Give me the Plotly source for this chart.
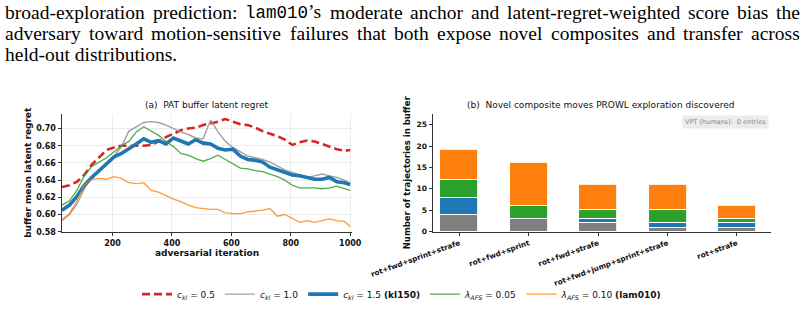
import plotly.graph_objects as go

W, H = 804, 309

# ---------------- data ----------------
iterations = [30, 55, 80, 105, 130, 155, 180, 205, 230, 255, 280, 305, 330, 355, 380, 405,
              430, 455, 480, 505, 530, 555, 580, 605, 630, 655, 680, 705, 730, 755, 780, 805,
              830, 855, 880, 905, 930, 955, 980, 1000]

ckl_05 = [0.632, 0.634, 0.638, 0.646, 0.658, 0.667, 0.675, 0.678, 0.680, 0.680, 0.680, 0.680,
          0.681, 0.685, 0.690, 0.694, 0.698, 0.700, 0.701, 0.704, 0.706, 0.708, 0.711, 0.708,
          0.705, 0.704, 0.701, 0.697, 0.694, 0.691, 0.687, 0.681, 0.684, 0.686, 0.685, 0.682,
          0.679, 0.676, 0.674, 0.675]
ckl_10 = [0.593, 0.600, 0.612, 0.630, 0.643, 0.651, 0.660, 0.668, 0.679, 0.697, 0.702, 0.707,
          0.708, 0.707, 0.704, 0.700, 0.696, 0.693, 0.689, 0.688, 0.710, 0.696, 0.685, 0.678,
          0.673, 0.668, 0.666, 0.664, 0.661, 0.656, 0.652, 0.649, 0.646, 0.643, 0.645, 0.647,
          0.645, 0.643, 0.640, 0.636]
ckl_15 = [0.605, 0.611, 0.621, 0.634, 0.643, 0.651, 0.659, 0.667, 0.671, 0.676, 0.682, 0.688,
          0.684, 0.686, 0.682, 0.689, 0.686, 0.682, 0.687, 0.683, 0.682, 0.677, 0.675, 0.676,
          0.668, 0.664, 0.663, 0.661, 0.655, 0.652, 0.648, 0.646, 0.645, 0.643, 0.641, 0.641,
          0.643, 0.638, 0.637, 0.635]
lam_005 = [0.611, 0.616, 0.628, 0.645, 0.656, 0.661, 0.666, 0.673, 0.680, 0.685, 0.696, 0.702,
           0.697, 0.692, 0.685, 0.679, 0.671, 0.669, 0.665, 0.662, 0.665, 0.669, 0.664, 0.659,
           0.654, 0.653, 0.651, 0.650, 0.647, 0.644, 0.640, 0.634, 0.631, 0.631, 0.631, 0.630,
           0.631, 0.633, 0.630, 0.628]
lam_010 = [0.594, 0.601, 0.616, 0.634, 0.641, 0.642, 0.641, 0.644, 0.642, 0.637, 0.636, 0.637,
           0.628, 0.626, 0.622, 0.618, 0.615, 0.611, 0.608, 0.607, 0.606, 0.606, 0.602, 0.601,
           0.601, 0.603, 0.604, 0.605, 0.607, 0.598, 0.600, 0.595, 0.591, 0.593, 0.591, 0.593,
           0.595, 0.593, 0.592, 0.586]

line_names = ["<i>c</i><sub><i>kl</i></sub> = 0.5",
              "<i>c</i><sub><i>kl</i></sub> = 1.0",
              "<i>c</i><sub><i>kl</i></sub> = 1.5 <b>(kl150)</b>",
              "<i>λ</i><sub><i>AFS</i></sub> = 0.05",
              "<i>λ</i><sub><i>AFS</i></sub> = 0.10 <b>(lam010)</b>"]

composites = ["rot+fwd+sprint+strafe", "rot+fwd+sprint", "rot+fwd+strafe",
              "rot+fwd+jump+sprint+strafe", "rot+strafe"]
count_ckl10 = [4, 3, 2, 1, 1]
count_ckl15 = [4, 0, 1, 1, 1]
count_lam005 = [4, 3, 2, 3, 1]
count_lam010 = [7, 10, 6, 6, 3]

y_ticks_a = [0.58, 0.60, 0.62, 0.64, 0.66, 0.68, 0.70]
x_ticks_a = [200, 400, 600, 800, 1000]
y_ticks_b = [0, 5, 10, 15, 20, 25]

para_lines = [
    ["broad-exploration", "prediction:", "@lam010@’s", "moderate", "anchor", "and",
     "latent-regret-weighted", "score", "bias", "the"],
    ["adversary", "toward", "motion-sensitive", "failures", "that", "both", "expose",
     "novel", "composites", "and", "transfer", "across"],
    ["held-out distributions."],
]

# ---------------- figure ----------------
fig = go.Figure()

styles = [
    dict(color="#d62728", width=2.6, dash="8px,4px"),
    dict(color="rgba(150,150,150,0.9)", width=1.4),
    dict(color="#1f77b4", width=3.6),
    dict(color="rgba(44,160,44,0.85)", width=1.3),
    dict(color="rgba(255,127,14,0.8)", width=1.3),
]
for ys, name, st in zip([ckl_05, ckl_10, ckl_15, lam_005, lam_010], line_names, styles):
    fig.add_trace(go.Scatter(x=iterations, y=ys, mode="lines", name=name, line=st,
                             xaxis="x", yaxis="y"))

bar_colors = ["#7f7f7f", "#1f77b4", "#2ca02c", "#ff7f0e"]
for vals, col in zip([count_ckl10, count_ckl15, count_lam005, count_lam010], bar_colors):
    fig.add_trace(go.Bar(x=composites, y=vals, marker=dict(color=col,
                         line=dict(color="rgba(255,255,255,0.85)", width=1)),
                         width=0.55, showlegend=False, xaxis="x2", yaxis="y2"))

tick_font = dict(family="DejaVu Sans", size=8, color="#111", weight="bold")
axis_common = dict(showline=True, linecolor="#333", linewidth=0.9, ticks="outside",
                   ticklen=3.5, tickwidth=0.9, tickcolor="#333", zeroline=False,
                   automargin=False, mirror=False)

y0 = (H - 234) / H
y1 = (H - 115) / H

fig.update_layout(
    width=W, height=H, margin=dict(l=0, r=0, t=0, b=0),
    paper_bgcolor="white", plot_bgcolor="white",
    barmode="stack", bargap=0,
    font=dict(family="DejaVu Sans", color="#111"),
    xaxis=dict(domain=[62 / W, 352 / W], range=[30, 1006], tickvals=x_ticks_a,
               showgrid=True, gridcolor="#ececec", gridwidth=0.8, anchor="y",
               tickfont=tick_font,
               title=dict(text="adversarial iteration", standoff=2,
                          font=dict(family="DejaVu Sans", size=9, weight="bold")),
               **axis_common),
    yaxis=dict(domain=[y0, y1], range=[0.58, 0.717], tickvals=y_ticks_a, tickformat=".2f",
               showgrid=True, gridcolor="#ececec", gridwidth=0.8, anchor="x",
               tickfont=tick_font,
               title=dict(text="buffer mean latent regret", standoff=3,
                          font=dict(family="DejaVu Sans", size=9, weight="bold")),
               **axis_common),
    xaxis2=dict(domain=[433 / W, 771 / W], type="category", range=[-0.38, 4.49],
                showgrid=False, anchor="y2", tickangle=-20,
                tickfont=dict(family="DejaVu Sans", size=7.3, color="#111", weight="bold"),
                **axis_common),
    yaxis2=dict(domain=[y0, y1], range=[0, 27.5], tickvals=y_ticks_b, showgrid=False,
                anchor="x2",
                tickfont=dict(family="DejaVu Sans", size=7.5, color="#111", weight="bold"),
                title=dict(text="Number of trajectories in buffer", standoff=4,
                           font=dict(family="DejaVu Sans", size=8.5, weight="bold")),
                **axis_common),
    legend=dict(orientation="h", x=0.5, xanchor="center", y=(H - 297) / H, yanchor="middle",
                font=dict(family="DejaVu Sans", size=9, color="#111"), itemwidth=30,
                traceorder="normal", bgcolor="rgba(0,0,0,0)"),
    showlegend=True,
)

annotations = [
    dict(text="(a)  PAT buffer latent regret", x=207 / W, y=(H - 106) / H, xref="paper",
         yref="paper", showarrow=False, xanchor="center", yanchor="middle",
         font=dict(family="DejaVu Sans", size=9, color="#111")),
    dict(text="(b)  Novel composite moves PROWL exploration discovered", x=600 / W,
         y=(H - 106) / H, xref="paper", yref="paper", showarrow=False, xanchor="center",
         yanchor="middle", font=dict(family="DejaVu Sans", size=9, color="#111")),
    dict(text="VPT (humans):  0 entries", x=725 / W, y=(H - 123) / H, xref="paper",
         yref="paper", showarrow=False, xanchor="center", yanchor="middle",
         font=dict(family="DejaVu Sans", size=6.5, color="#888"), bgcolor="#ececec",
         borderpad=2),
]

# ----- paragraph text (justified, Times metrics = Liberation Serif) -----
TW = {'a': 444, 'b': 500, 'c': 444, 'd': 500, 'e': 444, 'f': 333, 'g': 500, 'h': 500,
      'i': 278, 'j': 278, 'k': 500, 'l': 278, 'm': 778, 'n': 500, 'o': 500, 'p': 500,
      'q': 500, 'r': 333, 's': 389, 't': 278, 'u': 500, 'v': 500, 'w': 722, 'x': 500,
      'y': 500, 'z': 444, ' ': 250, '-': 333, ':': 278, '’': 333, '.': 250}
FS = 19.5
MONO_FS = 17.5


def word_width(w):
    total = 0.0
    parts = w.split("@")
    for k, part in enumerate(parts):
        if k % 2 == 1:
            total += 0.6 * len(part) * MONO_FS
        else:
            total += sum(TW.get(ch, 500) for ch in part) / 1000 * FS
    return total


def word_html(w):
    parts = w.split("@")
    out = ""
    for k, part in enumerate(parts):
        if k % 2 == 1:
            out += ('<span style="font-family:Liberation Mono;font-size:%.1fpx">' % MONO_FS
                    + part + "</span>")
        else:
            out += part
    return out


left_px, right_px = 5.0, 800.0
line_y = [12.5, 34.0, 55.5]
for li, words in enumerate(para_lines):
    widths = [word_width(w) for w in words]
    if li < 2 and len(words) > 1:
        gap = (right_px - left_px - sum(widths)) / (len(words) - 1)
    else:
        gap = 0
    xpos = left_px
    for w, wd in zip(words, widths):
        annotations.append(dict(text=word_html(w), x=(xpos - 1) / W, y=(H - line_y[li]) / H,
                                xref="paper", yref="paper", showarrow=False, xanchor="left",
                                yanchor="middle", borderpad=0,
                                font=dict(family="Liberation Serif", size=FS, color="#000")))
        xpos += wd + gap

fig.update_layout(annotations=annotations)

fig.write_html("out.html")
